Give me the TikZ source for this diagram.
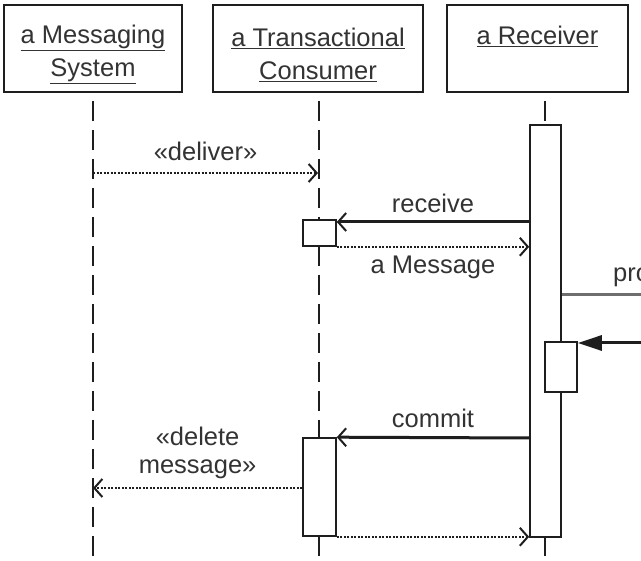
\documentclass[tikz,border=0pt]{standalone}
\usepackage{fontspec}
\setmainfont{Liberation Sans}
\usetikzlibrary{arrows.meta,positioning}
\definecolor{ink}{HTML}{1E1E1E}
\definecolor{txt}{HTML}{333333}
\definecolor{edge}{HTML}{6E6E6E}
\newcommand{\headstrut}{\rule{0pt}{31pt}}
\tikzset{
  head/.style={rectangle, draw=ink, line width=2pt, minimum height=87pt, inner sep=0pt, align=center, font=\fontsize{25.5}{33}\selectfont, text=txt},
  act/.style={rectangle, draw=ink, line width=1.6pt, fill=white, inner sep=0pt},
  life/.style={ink, line width=2pt, dash pattern=on 20pt off 9pt},
  call/.style={-{Straight Barb[length=8pt,width=18pt,line width=2pt]}, line width=3pt, ink},
  reply/.style={-{Straight Barb[length=8pt,width=18pt,line width=2pt]}, line width=1.5pt, dash pattern=on 2pt off 1.5pt, ink},
  sync/.style={-{Triangle[length=24pt,width=15pt]}, line width=3pt, ink},
  lbl/.style={font=\fontsize{25.5}{28}\selectfont, text=txt, inner sep=0pt, align=center},
}

\begin{document}
\begin{tikzpicture}[x=1pt,y=-1pt]
  \useasboundingbox[fill=white] (0,0) rectangle (641,561);
  % participants
  \node[head, minimum width=178pt] (sys) at (93,48.5) {\headstrut\underline{a Messaging}\\\underline{System}};
  \node[head, minimum width=210pt] (tc) at (318,48.5) {\headstrut\underline{a Transactional}\\\underline{Consumer}};
  \node[head, minimum width=181pt] (rcv) at (537.5,48.5) {\headstrut\underline{a Receiver}\\\phantom{Xg}};
  % lifelines
  \draw[life] (93,101) -- (93,561);
  \draw[life] (319,101) -- (319,561);
  \draw[life] (545,101) -- (545,561);
  % activations
  \node[act, minimum width=31pt, minimum height=412pt] (actR) at (545.5,331) {};
  \node[act, minimum width=33pt, minimum height=26pt] (actC1) at (319.5,233) {};
  \node[act, minimum width=32pt, minimum height=50pt] (actR2) at (561,367) {};
  \node[act, minimum width=33pt, minimum height=98pt] (actC2) at (319.5,487) {};
  \coordinate (sysD) at (93,173);
  \coordinate (tcD) at (318,173);
  \coordinate (sysX) at (93,488);
  \coordinate (outP) at (641,295);
  \coordinate (outS) at (641,343);
  % messages
  \draw[reply] (sysD) -- (tcD) node[lbl, midway, above=11pt] {«deliver»};
  \draw[call] (actR.west |- 0,222) -- (actC1.east |- 0,222) node[lbl, midway, above=8pt] {receive};
  \draw[reply] (actC1.south east) -- (actR.west |- actC1.south) node[lbl, midway, below=8pt] {a Message};
  \draw[edge, line width=3pt] (actR.east |- outP) -- (outP);
  \node[lbl, anchor=base west] (proc) at (613,282) {pro};
  \draw[sync] (outS) -- (actR2.east |- outS);
  \draw[call] (actR.west |- 0,438) -- (actC2.north east) node[lbl, midway, above=8pt] {commit};
  \draw[reply] (actC2.west |- sysX) -- (sysX) node[lbl, midway, above=8pt] {«delete\\message»};
  \draw[reply] (actC2.south east) -- (actR.west |- actC2.south);
\end{tikzpicture}
\end{document}
